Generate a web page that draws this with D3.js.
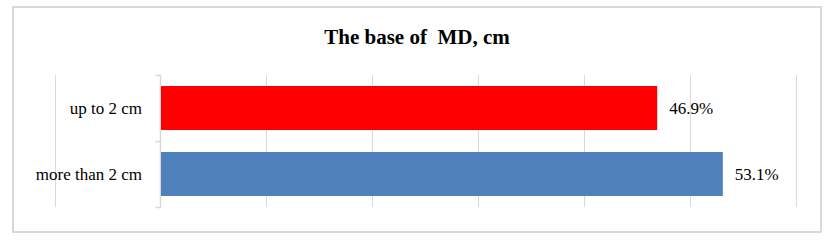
<!DOCTYPE html>
<html>
<head>
<meta charset="utf-8">
<script src="https://cdn.jsdelivr.net/npm/d3@7"></script>
<style>
html,body{margin:0;padding:0;background:#fff;}
svg{display:block;}
</style>
</head>
<body>
<svg id="chart" width="834" height="241"></svg>
<script>
const categories = ["up to 2 cm", "more than 2 cm"];
const values = [46.9, 53.1];
const colors = ["#FF0000", "#4F81BD"];
const valueLabels = ["46.9%", "53.1%"];
const gridTicks = [-10, 10, 20, 30, 40, 50, 60];
const title = "The base of  MD, cm";

const svg = d3.select("#chart");
const font = "'Liberation Serif','Times New Roman',serif";

svg.append("rect")
  .attr("x", 13).attr("y", 7).attr("width", 808).attr("height", 225)
  .attr("fill", "#fff").attr("stroke", "#d9d9d9").attr("stroke-width", 2);

svg.append("text")
  .attr("x", 417).attr("y", 44)
  .attr("text-anchor", "middle")
  .style("white-space", "pre")
  .attr("font-family", font).attr("font-weight", "bold").attr("font-size", 21)
  .attr("fill", "#000")
  .text(title);

const x = d3.scaleLinear().domain([-10, 60]).range([54.6, 795.9]);
const y = d3.scaleBand().domain(categories).range([75, 207]).paddingInner(1/3).paddingOuter(1/6);

const px = v => Math.round(x(v)) + 0.5;

svg.append("g").selectAll("line").data(gridTicks).join("line")
  .attr("x1", d => px(d)).attr("x2", d => px(d))
  .attr("y1", 75).attr("y2", 207)
  .attr("stroke", "#d9d9d9").attr("stroke-width", 1);

// category axis
const axisX = px(0) - 1;
const ax = svg.append("g");
ax.append("line").attr("x1", axisX).attr("x2", axisX).attr("y1", 75).attr("y2", 207.5)
  .attr("stroke", "#d9d9d9").attr("stroke-width", 1.5);
const tickYs = [75, y.step() + 75, 207];
ax.selectAll("line.t").data(tickYs).join("line").attr("class", "t")
  .attr("x1", axisX - 5).attr("x2", axisX)
  .attr("y1", d => d + 0.5).attr("y2", d => d + 0.5)
  .attr("stroke", "#d9d9d9").attr("stroke-width", 1.5);

ax.selectAll("text").data(categories).join("text")
  .attr("x", 142).attr("y", d => y(d) + y.bandwidth() / 2)
  .attr("dy", "0.34em")
  .attr("text-anchor", "end")
  .attr("font-family", font).attr("font-size", 17).attr("fill", "#000")
  .text(d => d);

svg.append("g").selectAll("rect").data(values).join("rect")
  .attr("x", x(0) + 0.5)
  .attr("y", (d, i) => y(categories[i]))
  .attr("width", d => x(d) - x(0) - 0.5)
  .attr("height", y.bandwidth())
  .attr("fill", (d, i) => colors[i]);

svg.append("g").selectAll("text").data(values).join("text")
  .attr("x", d => x(d) + 12)
  .attr("y", (d, i) => y(categories[i]) + y.bandwidth() / 2)
  .attr("dy", "0.34em")
  .attr("font-family", font).attr("font-size", 17).attr("fill", "#000")
  .text((d, i) => valueLabels[i]);
</script>
</body>
</html>
